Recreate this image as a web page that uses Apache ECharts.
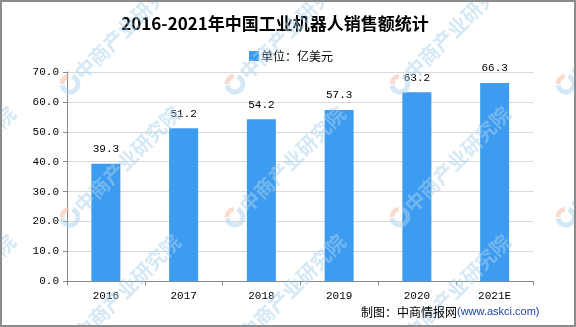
<!DOCTYPE html>
<html>
<head>
<meta charset="utf-8">
<script src="https://cdn.jsdelivr.net/npm/echarts@6/dist/echarts.min.js"></script>
<style>
  html, body { margin: 0; padding: 0; background: #fff; }
  #chart { width: 576px; height: 327px; }
</style>
</head>
<body>
<div id="chart"></div>
<script>
// Industrial robot sales in China, 2016-2021 (100M USD)
const years = ['2016', '2017', '2018', '2019', '2020', '2021E'];
const sales = [39.3, 51.2, 54.2, 57.3, 63.2, 66.3];
const yTicks = { min: 0, max: 70, interval: 10 };

const titleText = '2016-2021年中国工业机器人销售额统计';
const unitText = '单位：亿美元';
const sourceText = '制图：中商情报网';
const sourceUrl = '(www.askci.com)';
const brandText = '中商产业研究院';

const monoFont = '"Liberation Mono", "DejaVu Sans Mono", monospace';
const cjkFont = '"Noto Sans CJK SC", sans-serif';

// Tiled brand marks laid diagonally over the plot
const stampCols = [-95, 70, 235, 400, 566];
const stampRows = [84, 217, 345];
const stamps = [];
stampRows.forEach(function (cy) {
  stampCols.forEach(function (cx) {
    stamps.push({
      type: 'arc', z: 100, silent: true,
      shape: { cx: cx, cy: cy, r: 8, startAngle: -Math.PI * 0.4, endAngle: Math.PI * 0.95 },
      style: { stroke: 'rgba(170,210,235,0.5)', fill: null, lineWidth: 5 }
    });
    stamps.push({
      type: 'arc', z: 100, silent: true,
      shape: { cx: cx, cy: cy, r: 8, startAngle: Math.PI * 1.0, endAngle: Math.PI * 1.45 },
      style: { stroke: 'rgba(245,185,165,0.55)', fill: null, lineWidth: 5 }
    });
    stamps.push({
      type: 'text', z: 100, silent: true,
      x: cx + 8, y: cy - 8, rotation: Math.PI / 4,
      style: {
        text: brandText, fill: 'rgba(170,210,235,0.5)',
        font: 'bold 20px "Noto Sans CJK SC", sans-serif',
        align: 'left', verticalAlign: 'middle'
      }
    });
  });
});

const chart = echarts.init(document.getElementById('chart'), null, { renderer: 'canvas' });
chart.setOption({
  animation: false,
  backgroundColor: '#fff',
  title: {
    text: titleText,
    left: 270, top: 10, textAlign: 'center',
    textStyle: { fontFamily: cjkFont, fontSize: 17, fontWeight: 'bold', color: '#000' }
  },
  legend: {
    data: [{ name: unitText, icon: 'rect' }],
    left: 244, top: 45,
    itemWidth: 10, itemHeight: 10, itemGap: 2,
    textStyle: { fontFamily: cjkFont, fontSize: 12, color: '#000', padding: [0, 0, 0, -3] }
  },
  grid: { left: 67, right: 42.5, top: 72, bottom: 45.7, containLabel: false },
  xAxis: {
    type: 'category',
    data: years,
    axisLine: { lineStyle: { color: '#888', width: 1 } },
    axisTick: { show: true, length: 4, lineStyle: { color: '#888' }, alignWithLabel: false },
    axisLabel: { fontFamily: monoFont, fontSize: 11, color: '#000', margin: 9 }
  },
  yAxis: {
    type: 'value',
    min: yTicks.min, max: yTicks.max, interval: yTicks.interval,
    axisLine: { show: true, lineStyle: { color: '#888', width: 1 } },
    axisTick: { show: true, length: 4, lineStyle: { color: '#888' } },
    splitLine: { lineStyle: { color: '#d9d9d9', width: 1 } },
    axisLabel: {
      fontFamily: monoFont, fontSize: 11, color: '#000', margin: 8,
      formatter: function (v) { return v.toFixed(1); }
    }
  },
  series: [{
    name: unitText,
    type: 'bar',
    data: sales,
    barWidth: 29,
    itemStyle: { color: '#3d9cf0' },
    label: {
      show: true, position: 'top', distance: 9,
      fontFamily: monoFont, fontSize: 11, color: '#000',
      formatter: function (p) { return p.value.toFixed(1); }
    }
  }],
  graphic: [
    {
      type: 'rect', z: 110, silent: true,
      shape: { x: 1, y: 1, width: 574, height: 325 },
      style: { fill: null, stroke: '#8c8c8c', lineWidth: 2 }
    },
    {
      type: 'text', z: 110, silent: true,
      x: 457, y: 312,
      style: {
        text: sourceText, fill: '#000',
        font: '12px "Noto Sans CJK SC", sans-serif',
        align: 'right', verticalAlign: 'middle'
      }
    },
    {
      type: 'text', z: 110, silent: true,
      x: 457, y: 312,
      style: {
        text: sourceUrl, fill: '#1f3fa8',
        font: '11px "Liberation Sans", Arial, sans-serif',
        align: 'left', verticalAlign: 'middle'
      }
    }
  ].concat(stamps)
});
</script>
</body>
</html>
